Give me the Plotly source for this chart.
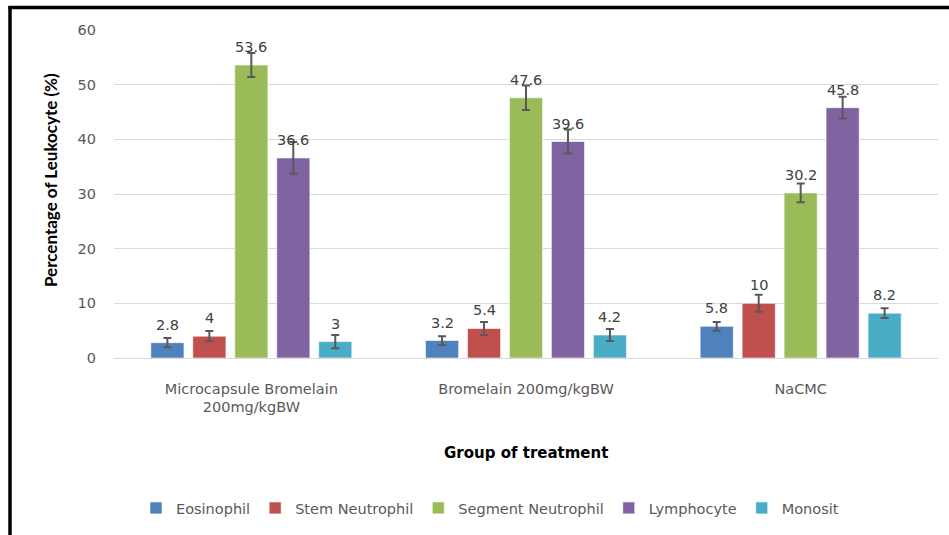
import plotly.graph_objects as go

groups = ["Microcapsule Bromelain<br>200mg/kgBW", "Bromelain 200mg/kgBW", "NaCMC"]
series_names = ["Eosinophil", "Stem Neutrophil", "Segment Neutrophil", "Lymphocyte", "Monosit"]
eosinophil = [2.8, 3.2, 5.8]
stem_neutrophil = [4, 5.4, 10]
segment_neutrophil = [53.6, 47.6, 30.2]
lymphocyte = [36.6, 39.6, 45.8]
monosit = [3, 4.2, 8.2]
err_eosinophil = [0.85, 0.8, 0.8]
err_stem = [0.95, 1.2, 1.55]
err_segment = [2.2, 2.25, 1.7]
err_lymph = [2.9, 2.2, 2.0]
err_monosit = [1.2, 1.1, 0.9]

values = [eosinophil, stem_neutrophil, segment_neutrophil, lymphocyte, monosit]
errors = [err_eosinophil, err_stem, err_segment, err_lymph, err_monosit]
colors = ["#4F81BD", "#C0504D", "#9BBB59", "#8064A2", "#4BACC6"]

HFONT = "DejaVu Sans"
FS = 14.5
W, H = 949, 535
L, R, T, B = 114, 11, 30, 177
pw, ph = W - L - R, H - T - B
BARGAP = 0.236
GROUPGAP = 0.21
slot = pw / len(groups) * (1 - BARGAP) / len(series_names)


def px(sx):
    return (sx - L) / pw


def py(sy):
    return (H - B - sy) / ph


fig = go.Figure()
annotations = []
n = len(series_names)
for i, (name, vals, errs, col) in enumerate(zip(series_names, values, errors, colors)):
    fig.add_trace(go.Bar(
        name=name, x=groups, y=vals,
        marker=dict(color=col, line=dict(color="rgba(255,255,255,0.6)", width=1)),
        error_y=dict(type="data", array=errs, visible=True, color="#595959", thickness=2, width=4),
    ))
    for g, v in zip(groups, vals):
        annotations.append(dict(
            x=g, y=v, xref="x", yref="y", text=str(v), showarrow=False,
            xshift=(i - (n - 1) / 2) * slot, yshift=18, yanchor="middle", xanchor="center",
            font=dict(family=HFONT, size=FS, color="#404040"),
        ))

annotations += [
    dict(text="<b>Percentage of Leukocyte (%)</b>", xref="paper", yref="paper",
         x=px(50), y=py(180), textangle=-90, showarrow=False,
         font=dict(family="Lato", size=17, color="black"), xanchor="center", yanchor="middle"),
    dict(text="<b>Group of treatment</b>", xref="paper", yref="paper",
         x=px(526), y=py(453), showarrow=False,
         font=dict(family=HFONT, size=15, color="black"), xanchor="center", yanchor="middle"),
]

fig.update_layout(
    width=W, height=H,
    margin=dict(l=L, r=R, t=T, b=B, autoexpand=False),
    paper_bgcolor="white", plot_bgcolor="white",
    barmode="group", bargap=BARGAP, bargroupgap=GROUPGAP,
    font=dict(family=HFONT, size=FS, color="#595959"),
    showlegend=True,
    legend=dict(orientation="h", x=px(490), y=py(508), xanchor="center", yanchor="middle",
                font=dict(family=HFONT, size=FS, color="#595959"), traceorder="normal",
                itemwidth=30),
    xaxis=dict(showline=False, ticks="", ticklabelstandoff=20,
               tickfont=dict(family=HFONT, size=FS, color="#595959")),
    yaxis=dict(range=[0, 60], dtick=10, showgrid=True, gridcolor="#D9D9D9", gridwidth=1,
               zeroline=True, zerolinecolor="#D9D9D9", zerolinewidth=1,
               ticks="", ticklabelstandoff=17,
               tickfont=dict(family=HFONT, size=FS, color="#595959")),
    shapes=[
        dict(type="line", xref="paper", yref="paper", x0=px(10), x1=px(10), y0=py(6), y1=py(545),
             line=dict(color="black", width=3.5)),
        dict(type="line", xref="paper", yref="paper", x0=px(8.5), x1=px(960), y0=py(7.5), y1=py(7.5),
             line=dict(color="black", width=3.5)),
    ],
    annotations=annotations,
)

fig.write_html("out.html", config={"displayModeBar": False},
               post_script="document.body.style.margin='0';")
